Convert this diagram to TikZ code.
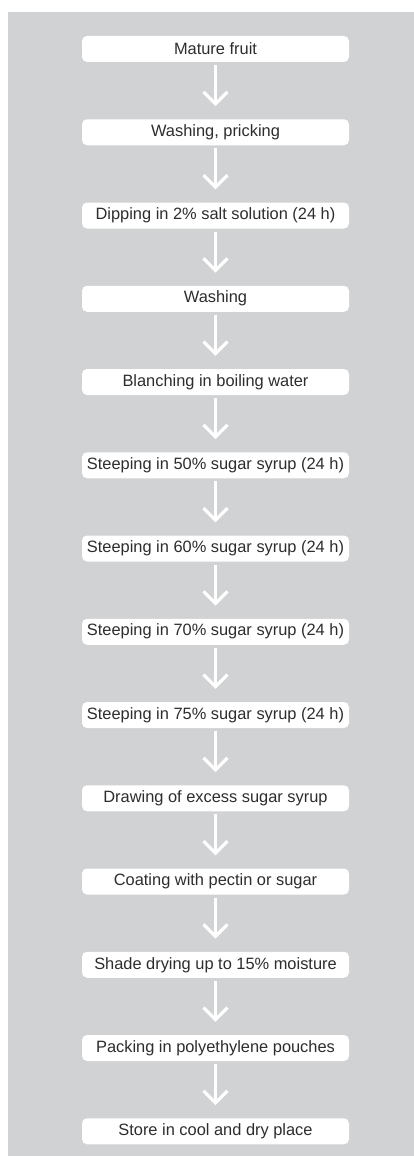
\documentclass[tikz,border=0pt]{standalone}
\usepackage{fontspec}
\setmainfont{Liberation Sans}
\usetikzlibrary{arrows.meta,positioning}
\definecolor{panel}{RGB}{209,210,212}
\definecolor{ink}{RGB}{45,45,45}
\tikzset{
  stepbox/.style={fill=white, rounded corners=5pt, minimum width=267pt,
    minimum height=26pt, inner sep=0pt, text=ink, font=\fontsize{16.4}{18}\selectfont},
  flow/.style={draw=white, line width=3.2pt, -{Straight Barb[length=12pt,width=24pt]},
    shorten <=3pt, shorten >=13pt}
}
\begin{document}
\begin{tikzpicture}[x=1pt, y=1pt, node distance=56.85pt]
    \useasboundingbox (0,0) rectangle (414,-1156);
    % grey panel
    \fill[panel] (8,-12) rectangle (414,-1156);

    % process steps, top to bottom
    \node[stepbox] (s1) at (215.5,-49) {Mature fruit};
    \node[stepbox, below=of s1]  (s2)  {Washing, pricking};
    \node[stepbox, below=of s2]  (s3)  {Dipping in 2\% salt solution (24 h)};
    \node[stepbox, below=of s3]  (s4)  {Washing};
    \node[stepbox, below=of s4]  (s5)  {Blanching in boiling water};
    \node[stepbox, below=of s5]  (s6)  {Steeping in 50\% sugar syrup (24 h)};
    \node[stepbox, below=of s6]  (s7)  {Steeping in 60\% sugar syrup (24 h)};
    \node[stepbox, below=of s7]  (s8)  {Steeping in 70\% sugar syrup (24 h)};
    \node[stepbox, below=of s8]  (s9)  {Steeping in 75\% sugar syrup (24 h)};
    \node[stepbox, below=of s9]  (s10) {Drawing of excess sugar syrup};
    \node[stepbox, below=of s10] (s11) {Coating with pectin or sugar};
    \node[stepbox, below=of s11] (s12) {Shade drying up to 15\% moisture};
    \node[stepbox, below=of s12] (s13) {Packing in polyethylene pouches};
    \node[stepbox, below=of s13] (s14) {Store in cool and dry place};

    % arrows between steps
    \draw[flow] (s1) -- (s2);
    \draw[flow] (s2) -- (s3);
    \draw[flow] (s3) -- (s4);
    \draw[flow] (s4) -- (s5);
    \draw[flow] (s5) -- (s6);
    \draw[flow] (s6) -- (s7);
    \draw[flow] (s7) -- (s8);
    \draw[flow] (s8) -- (s9);
    \draw[flow] (s9) -- (s10);
    \draw[flow] (s10) -- (s11);
    \draw[flow] (s11) -- (s12);
    \draw[flow] (s12) -- (s13);
    \draw[flow] (s13) -- (s14);
\end{tikzpicture}
\end{document}
